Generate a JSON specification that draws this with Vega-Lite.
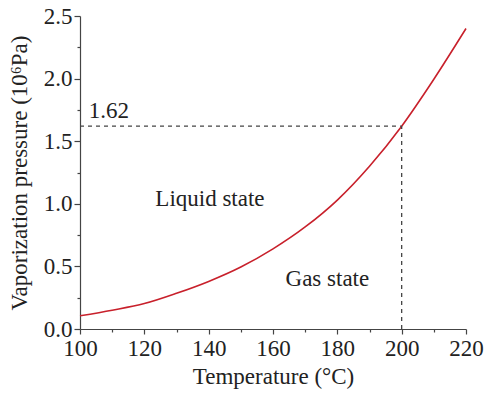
{
  "$schema": "https://vega.github.io/schema/vega-lite/v6.json",
  "width": 386,
  "height": 313,
  "autosize": {"type": "none"},
  "padding": {"left": 80, "top": 16, "right": 19, "bottom": 65},
  "background": "white",
  "config": {
    "view": {"stroke": null},
    "font": "Liberation Serif",
    "axis": {
      "grid": false,
      "domainColor": "#444",
      "tickColor": "#444",
      "labelColor": "#222",
      "titleColor": "#222",
      "labelFont": "Liberation Serif",
      "titleFont": "Liberation Serif",
      "labelFontSize": 23,
      "titleFontSize": 23,
      "titleFontWeight": "normal",
      "labelFlush": false,
      "labelOverlap": false,
      "labelBound": false,
      "domainWidth": 1.2,
      "tickWidth": 1.2
    }
  },
  "datasets": {
    "curve": [
      {"t": 100, "p": 0.105},
      {"t": 110, "p": 0.150},
      {"t": 120, "p": 0.203},
      {"t": 130, "p": 0.285},
      {"t": 140, "p": 0.380},
      {"t": 150, "p": 0.495},
      {"t": 160, "p": 0.640},
      {"t": 170, "p": 0.815},
      {"t": 180, "p": 1.030},
      {"t": 190, "p": 1.300},
      {"t": 200, "p": 1.620},
      {"t": 210, "p": 1.995},
      {"t": 220, "p": 2.400}
    ],
    "guides": [
      {"t": 100, "t2": 200, "p": 1.62, "p2": 1.62},
      {"t": 200, "t2": 200, "p": 0, "p2": 1.62}
    ],
    "labels": [
      {"t": 108.95, "p": 1.685, "label": "1.62"},
      {"t": 140.4, "p": 0.985, "label": "Liquid state"},
      {"t": 176.9, "p": 0.345, "label": "Gas state"}
    ]
  },
  "resolve": {"axis": {"x": "independent", "y": "independent"}},
  "layer": [
    {
      "data": {"name": "curve"},
      "mark": {"type": "line", "color": "#c8202b", "strokeWidth": 1.6, "interpolate": "monotone"},
      "encoding": {
        "x": {
          "field": "t", "type": "quantitative",
          "scale": {"domain": [100, 220], "nice": false, "zero": false},
          "axis": {
            "orient": "bottom",
            "values": [100, 120, 140, 160, 180, 200, 220],
            "tickSize": 5, "labelPadding": 3,
            "labelFont": "Liberation Serif",
            "title": "Temperature (°C)", "titlePadding": 5
          }
        },
        "y": {
          "field": "p", "type": "quantitative",
          "scale": {"domain": [0, 2.5], "nice": false},
          "axis": {
            "orient": "left",
            "values": [0, 0.5, 1, 1.5, 2, 2.5],
            "format": ".1f",
            "tickSize": 6, "labelPadding": 2,
            "labelFont": "Liberation Serif",
            "title": "Vaporization pressure (10⁶Pa)", "titlePadding": 12
          }
        }
      }
    },
    {
      "data": {"name": "guides"},
      "mark": {"type": "rule", "color": "#444", "strokeWidth": 1.3, "strokeDash": [4, 4]},
      "encoding": {
        "x": {
          "field": "t", "type": "quantitative",
          "axis": {
            "orient": "bottom",
            "values": [110, 130, 150, 170, 190, 210],
            "tickSize": 3, "labels": false, "domain": false, "title": null
          }
        },
        "x2": {"field": "t2"},
        "y": {
          "field": "p", "type": "quantitative",
          "axis": {
            "orient": "left",
            "values": [0.25, 0.75, 1.25, 1.75, 2.25],
            "tickSize": 3, "labels": false, "domain": false, "title": null
          }
        },
        "y2": {"field": "p2"}
      }
    },
    {
      "data": {"name": "labels"},
      "mark": {"type": "text", "fontSize": 23, "color": "#222", "baseline": "alphabetic", "align": "center", "font": "Liberation Serif"},
      "encoding": {
        "x": {"field": "t", "type": "quantitative", "axis": null},
        "y": {"field": "p", "type": "quantitative", "axis": null},
        "text": {"field": "label"}
      }
    }
  ]
}
